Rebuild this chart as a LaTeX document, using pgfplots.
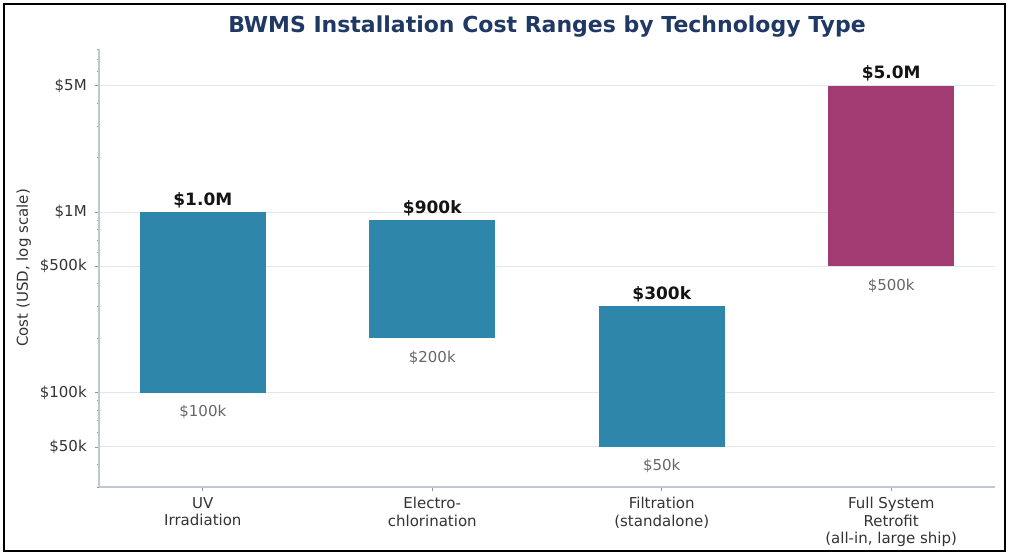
\documentclass[border=0pt]{standalone}
\usepackage{fontspec}
\setmainfont{DejaVu Sans}
\usepackage{pgfplots}
\pgfplotsset{compat=1.18}
\definecolor{barblue}{HTML}{2E86AB}
\definecolor{barmag}{HTML}{A23B72}
\definecolor{titlecol}{HTML}{1F3864}
\definecolor{lab}{HTML}{666666}
\definecolor{txt}{HTML}{333333}
\definecolor{spine}{HTML}{BFC8D0}
\definecolor{tickc}{HTML}{8E99A4}
\definecolor{gridc}{HTML}{E1E7EC}
\begin{document}
\begin{tikzpicture}
\useasboundingbox (-74.25pt,-52.5pt) rectangle (684.75pt,365.25pt);
\begin{axis}[
  at={(0,0)}, anchor=south west, scale only axis,
  width=672pt, height=328.5pt,
  ymode=log, ymin=3e4, ymax=8e6,
  xmin=-0.4525, xmax=3.4525,
  axis x line*=bottom, axis y line*=left,
  axis line style={draw=spine, line width=0.8pt, -},
  xtick={0,1,2,3},
  xticklabels={{UV\\Irradiation},{Electro-\\chlorination},{Filtration\\(standalone)},{Full System\\Retrofit\\(all-in, large ship)}},
  xticklabel style={align=center, font=\fontsize{11.25}{13.1}\selectfont, text=txt, anchor=north, inner sep=0pt, yshift=-4.5pt},
  ytick={5e4,1e5,5e5,1e6,5e6},
  yticklabels={\$50k,\$100k,\$500k,\$1M,\$5M},
  minor ytick={3e4,4e4,6e4,7e4,8e4,9e4,2e5,3e5,4e5,6e5,7e5,8e5,9e5,2e6,3e6,4e6,6e6,7e6,8e6},
  yticklabel style={font=\fontsize{11.25}{13.1}\selectfont, text=txt, anchor=east, inner sep=0pt},
  yticklabel shift=6pt,
  tick style={draw=tickc, line width=0.6pt},
  major tick length=3pt, minor tick length=1.8pt,
  tick align=outside,
  ymajorgrids, major grid style={draw=gridc, line width=0.75pt},
  title={BWMS Installation Cost Ranges by Technology Type},
  title style={font=\fontsize{16.5}{20}\selectfont\bfseries, text=titlecol, at={(axis description cs:0.5,1)}, anchor=base, yshift=6pt},
  ylabel={Cost (USD, log scale)},
  every axis y label/.style={at={(axis description cs:-0.084,0.5)}, rotate=90, anchor=center, font=\fontsize{11.25}{13.1}\selectfont, text=txt},
  clip=false,
]
% floating bars: low -> high
\addplot[fill=barblue, draw=none] coordinates {(-0.275,1e5) (0.275,1e5) (0.275,1e6) (-0.275,1e6)} -- cycle;
\addplot[fill=barblue, draw=none] coordinates {(0.725,2e5) (1.275,2e5) (1.275,9e5) (0.725,9e5)} -- cycle;
\addplot[fill=barblue, draw=none] coordinates {(1.725,5e4) (2.275,5e4) (2.275,3e5) (1.725,3e5)} -- cycle;
\addplot[fill=barmag, draw=none] coordinates {(2.725,5e5) (3.275,5e5) (3.275,5e6) (2.725,5e6)} -- cycle;
% value labels
\tikzset{toplab/.style={anchor=base, yshift=5.25pt, font=\fontsize{12.75}{15}\selectfont\bfseries, text=black!92},
         botlab/.style={anchor=base, yshift=-18pt, font=\fontsize{11.25}{13}\selectfont, text=lab}}
\node[toplab] at (axis cs:0,1e6) {\$1.0M};
\node[toplab] at (axis cs:1,9e5) {\$900k};
\node[toplab] at (axis cs:2,3e5) {\$300k};
\node[toplab] at (axis cs:3,5e6) {\$5.0M};
\node[botlab] at (axis cs:0,1e5) {\$100k};
\node[botlab] at (axis cs:1,2e5) {\$200k};
\node[botlab] at (axis cs:2,5e4) {\$50k};
\node[botlab] at (axis cs:3,5e5) {\$500k};
\end{axis}
\draw[black, line width=1pt] (-71.25pt,-48pt) rectangle (679.5pt,362.25pt);
\end{tikzpicture}
\end{document}
